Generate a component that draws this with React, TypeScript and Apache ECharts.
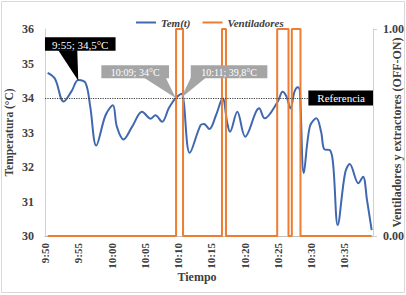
import React, { useEffect, useRef } from "react";
import * as echarts from "echarts";

// minutes after 9:50
const minutes = [0.4, 1.5, 2.8, 4.0, 5.0, 6.1, 6.8, 7.7, 9.1, 10.2, 10.8, 11.8, 13.1, 14.6, 15.9, 16.6, 17.6, 18.6, 19.6, 20.5, 21.75, 23.4, 23.9, 24.7, 25.7, 26.7, 27.4, 27.8, 28.9, 30.1, 32.2, 33.0, 35.0, 35.7, 36.3, 36.9, 37.5, 38.0, 38.3, 38.9, 39.8, 40.8, 41.5, 42.0, 42.8, 43.3, 44.0, 45.1, 45.8, 47.1, 47.8, 48.4, 49.1];
const temperatures = [34.73, 34.56, 33.9, 34.2, 34.52, 34.43, 33.75, 32.62, 33.5, 33.79, 33.17, 32.8, 33.17, 33.6, 33.4, 33.5, 33.31, 33.7, 33.99, 34.12, 32.41, 33.22, 33.25, 33.1, 33.5, 33.99, 33.27, 33.02, 33.6, 32.88, 33.7, 33.41, 33.9, 34.18, 34.04, 33.7, 34.18, 34.31, 34.23, 31.82, 33.17, 33.41, 33.02, 32.51, 32.49, 32.1, 30.32, 31.82, 32.09, 31.53, 31.72, 31.04, 30.17];

const fanStart = 0.4;
const fanEnd = 49.1;
const fanOnTimes = [19.7, 26.6, 34.9, 37.1];
const fanOffTimes = [20.75, 27.2, 36.6, 38.4];

const timeLabels = ["9:50", "9:55", "10:00", "10:05", "10:10", "10:15", "10:20", "10:25", "10:30", "10:35"];
const xMin = 0;
const xMax = 49.3;
const referenceTemp = 34;

const calloutTimes = [5.0, 19.65, 20.45];
const calloutTemps = [34.5, 34, 34];
const calloutTexts = ["9:55; 34,5°C", "10:09; 34°C", "10:11; 39,8°C"];

const calloutStyles = [
  { dx: -33.3, dy: -43.5, w: 70.6, h: 13.6, baseL: -20, baseR: -1, fill: "#000000", fontSize: 11 },
  { dx: -74.4, dy: -32.7, w: 67.7, h: 12.9, baseL: -31.7, baseR: -10, fill: "#a5a5a5", fontSize: 10 },
  { dx: 9.7, dy: -32.7, w: 76.6, h: 12.9, baseL: 9.7, baseR: 24.7, fill: "#a5a5a5", fontSize: 10 },
];

const FONT = "'Liberation Serif', 'Times New Roman', serif";
const BLUE = "#4068b0";
const ORANGE = "#ED7D31";

export default function App() {
  const ref = useRef<HTMLDivElement>(null);

  useEffect(() => {
    if (!ref.current) return;
    const chart = echarts.init(ref.current, null, { renderer: "svg" });

    const fanData: number[][] = [[fanStart, 0]];
    fanOnTimes.forEach((on, i) => {
      const off = fanOffTimes[i];
      fanData.push([on, 0], [on, 1], [off, 1], [off, 0]);
    });
    fanData.push([fanEnd, 0]);

    const tempData = minutes.map((m, i) => [m, temperatures[i]]);

    const option: any = {
      animation: false,
      backgroundColor: "#ffffff",
      textStyle: { fontFamily: FONT },
      legend: {
        top: 12,
        left: 131,
        icon: "rect",
        itemWidth: 20,
        itemHeight: 2,
        itemGap: 12,
        data: ["Tem(t)", "Ventiladores"],
        textStyle: { fontFamily: FONT, fontSize: 11, fontStyle: "italic", fontWeight: "bold", color: "#404040" },
      },
      grid: { left: 45, right: 33, top: 29, bottom: 59, containLabel: false, outerBoundsMode: "none" },
      xAxis: {
        type: "value",
        min: xMin,
        max: xMax,
        interval: 5,
        name: "Tiempo",
        nameLocation: "middle",
        nameGap: 35,
        nameMoveOverlap: false,
        nameTextStyle: { fontFamily: FONT, fontSize: 12, fontWeight: "bold", color: "#404040", padding: [0, 24, 0, 0] },
        axisLine: { show: true, lineStyle: { color: "#bfbfbf", width: 1 } },
        axisTick: { show: false },
        splitLine: { show: false },
        axisLabel: {
          rotate: 90,
          margin: 7,
          fontFamily: FONT,
          fontSize: 11,
          fontWeight: "bold",
          color: "#404040",
          showMaxLabel: false,
          formatter: (v: number) => {
            const idx = Math.round(v / 5);
            if (Math.abs(v - idx * 5) > 1e-6) return "";
            return timeLabels[idx] ?? "";
          },
        },
      },
      yAxis: [
        {
          type: "value",
          min: 30,
          max: 36,
          interval: 1,
          name: "Temperatura (°C)",
          nameLocation: "middle",
          nameGap: 30,
          nameMoveOverlap: false,
          nameTextStyle: { fontFamily: FONT, fontSize: 11.5, fontWeight: "bold", color: "#404040" },
          axisLine: { show: true, lineStyle: { color: "#d0d0d0", width: 1 } },
          axisTick: { show: false },
          splitLine: { show: false },
          axisLabel: { margin: 11, fontFamily: FONT, fontSize: 12, fontWeight: "bold", color: "#404040" },
        },
        {
          type: "value",
          position: "right",
          min: 0,
          max: 1,
          interval: 1,
          name: "Ventiladores y extractores (OFF-ON)",
          nameLocation: "middle",
          nameGap: 18,
          nameMoveOverlap: false,
          nameTextStyle: { fontFamily: FONT, fontSize: 12, fontWeight: "bold", color: "#404040" },
          axisLine: { show: true, lineStyle: { color: "#d0d0d0", width: 1 } },
          axisTick: { show: true, length: 4, lineStyle: { color: "#d0d0d0" } },
          splitLine: { show: false },
          axisLabel: {
            margin: 10,
            fontFamily: FONT,
            fontSize: 12,
            fontWeight: "bold",
            color: "#404040",
            formatter: (v: number) => v.toFixed(2),
          },
        },
      ],
      series: [
        {
          name: "Tem(t)",
          type: "line",
          yAxisIndex: 0,
          data: tempData,
          smooth: 0.35,
          symbol: "none",
          lineStyle: { color: BLUE, width: 2 },
          itemStyle: { color: BLUE },
          markLine: {
            silent: true,
            symbol: "none",
            data: [{ yAxis: referenceTemp }],
            lineStyle: { type: "dotted", color: "#404040", width: 1.2 },
            label: {
              show: true,
              formatter: "Referencia",
              position: "insideEnd",
              distance: 0,
              backgroundColor: "#000000",
              color: "#ffffff",
              fontFamily: FONT,
              fontSize: 11,
              lineHeight: 13,
              padding: [1, 8, 1, 9],
            },
            emphasis: { disabled: true },
          },
        },
        {
          name: "Ventiladores",
          type: "line",
          yAxisIndex: 1,
          data: fanData,
          symbol: "none",
          lineStyle: { color: ORANGE, width: 2 },
          itemStyle: { color: ORANGE },
        },
      ],
    };

    chart.setOption(option);

    const graphics: any[] = [
      {
        type: "rect",
        silent: true,
        shape: { x: 1.5, y: 1.5, width: 403, height: 291 },
        style: { fill: "none", stroke: "#d9d9d9", lineWidth: 1 },
      },
    ];
    calloutTimes.forEach((t, i) => {
      const p = chart.convertToPixel({ xAxisIndex: 0, yAxisIndex: 0 }, [t, calloutTemps[i]]) as number[];
      const s = calloutStyles[i];
      const [tx, ty] = p;
      const bx = tx + s.dx;
      const by = ty + s.dy;
      graphics.push({
        type: "polygon",
        silent: true,
        z: 100,
        shape: {
          points: [
            [tx + s.baseL, by + s.h - 0.5],
            [tx + s.baseR, by + s.h - 0.5],
            [tx, ty],
          ],
        },
        style: { fill: s.fill },
      });
      graphics.push({
        type: "rect",
        silent: true,
        z: 100,
        shape: { x: bx, y: by, width: s.w, height: s.h },
        style: { fill: s.fill },
      });
      graphics.push({
        type: "text",
        silent: true,
        z: 101,
        x: bx + s.w / 2,
        y: by + s.h / 2 + 0.5,
        style: {
          text: calloutTexts[i],
          fill: "#ffffff",
          font: `${s.fontSize}px ${FONT}`,
          textAlign: "center",
          textVerticalAlign: "middle",
        },
      });
    });
    chart.setOption({ graphic: graphics });

    return () => chart.dispose();
  }, []);

  return (
    <div
      ref={ref}
      style={{ position: "fixed", left: 0, top: 0, width: 406, height: 295, background: "#fff" }}
    />
  );
}
